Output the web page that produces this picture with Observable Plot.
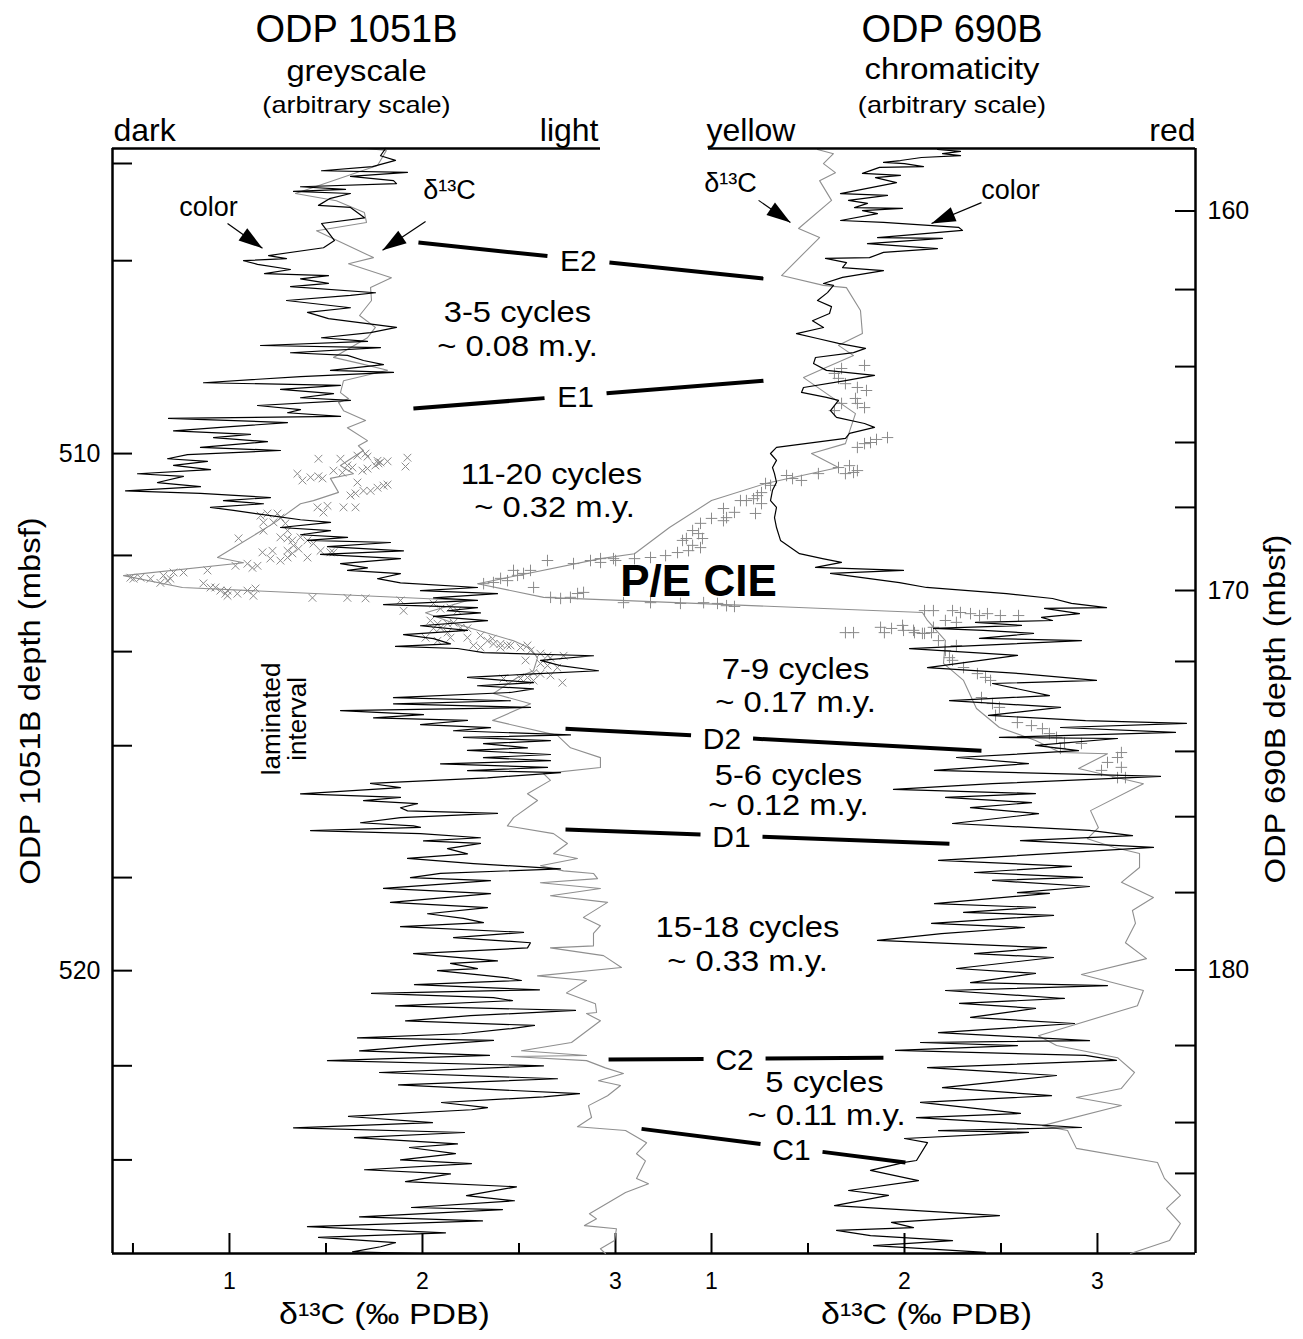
<!DOCTYPE html>
<html><head><meta charset="utf-8">
<script src="https://cdn.jsdelivr.net/npm/d3@7"></script>
<script src="https://cdn.jsdelivr.net/npm/@observablehq/plot@0.6"></script>
<style>
html,body{margin:0;padding:0;background:#fff;overflow:hidden}
#chart{position:relative;width:1303px;height:1339px;background:#fff}
#chart svg{position:absolute;left:0;top:0}
</style></head><body><div id="chart"></div>
<script>
// ---------------- DATA ----------------
// ODP 1051B greyscale (arbitrary units, dark=0) vs depth (mbsf): [depth, value]
const grey1051 = [[504.10,27.3],[504.24,26.8],[504.33,28.3],[504.45,26.0],[504.53,20.9],[504.56,29.5],[504.64,23.8],[504.72,28.1],[504.78,28.4],[504.84,18.8],[504.89,23.3],[504.93,18.1],[504.97,23.8],[505.07,21.7],[505.20,20.6],[505.24,23.8],[505.44,25.2],[505.55,20.9],[505.88,22.2],[506.02,21.1],[506.17,15.6],[506.23,17.4],[506.27,13.1],[506.34,14.5],[506.44,17.8],[506.52,15.2],[506.56,21.6],[506.62,18.8],[506.71,21.6],[506.77,17.8],[506.89,26.3],[506.94,23.8],[507.04,17.4],[507.18,23.8],[507.27,19.5],[507.39,21.6],[507.56,28.4],[507.66,25.8],[507.76,20.9],[507.83,25.5],[507.91,14.8],[507.95,26.8],[508.05,17.8],[508.10,23.5],[508.20,25.1],[508.28,27.1],[508.39,21.8],[508.43,28.1],[508.51,18.8],[508.63,9.1],[508.68,22.8],[508.76,16.8],[508.84,22.1],[508.92,18.8],[508.97,23.8],[509.07,14.5],[509.15,18.8],[509.21,17.5],[509.28,22.8],[509.32,5.6],[509.40,17.5],[509.48,11.8],[509.56,6.1],[509.63,13.8],[509.69,10.1],[509.77,15.5],[509.88,8.8],[509.94,16.8],[510.02,7.5],[510.10,5.5],[510.15,9.5],[510.23,6.1],[510.31,9.8],[510.39,2.5],[510.44,7.1],[510.56,4.5],[510.64,8.8],[510.72,1.3],[510.77,8.8],[510.85,15.8],[510.91,11.1],[510.97,15.1],[511.04,9.8],[511.10,12.1],[511.20,15.8],[511.28,18.8],[511.33,21.8],[511.43,16.8],[511.49,21.8],[511.57,18.8],[511.62,23.5],[511.68,19.5],[511.72,27.8],[511.80,21.5],[511.88,29.1],[511.95,20.8],[512.03,28.8],[512.13,22.8],[512.21,25.5],[512.26,23.5],[512.32,28.8],[512.42,26.5],[512.50,28.8],[512.59,36.5],[512.65,30.8],[512.71,38.5],[512.79,32.1],[512.84,36.5],[512.92,27.1],[512.98,36.5],[513.04,33.5],[513.08,36.8],[513.15,32.1],[513.23,37.5],[513.33,30.8],[513.42,35.5],[513.50,29.1],[513.58,32.1],[513.68,33.8],[513.73,28.3],[513.77,34.5],[513.85,37.1],[513.91,48.1],[514.00,42.8],[514.10,44.8],[514.20,48.6],[514.26,42.1],[514.33,35.5],[514.43,42.1],[514.49,36.5],[514.55,42.1],[514.62,39.8],[514.72,28.1],[514.78,39.8],[514.84,28.1],[514.91,41.8],[514.97,22.8],[515.05,31.1],[515.11,26.1],[515.16,35.5],[515.24,30.8],[515.30,37.8],[515.36,34.1],[515.44,45.8],[515.49,35.1],[515.55,43.8],[515.61,37.1],[515.69,41.5],[515.74,35.5],[515.82,43.8],[515.88,37.1],[515.94,43.8],[516.00,32.8],[516.07,43.5],[516.13,35.5],[516.17,44.8],[516.27,37.5],[516.38,25.8],[516.46,28.8],[516.58,18.8],[516.65,28.8],[516.71,25.1],[516.77,30.5],[516.85,28.8],[516.91,29.5],[516.96,38.5],[517.04,28.8],[517.14,24.8],[517.20,30.1],[517.23,30.8],[517.29,19.8],[517.35,30.8],[517.43,36.8],[517.49,31.1],[517.54,36.8],[517.64,33.5],[517.74,35.5],[517.83,29.5],[517.93,36.1],[518.03,44.8],[518.12,32.8],[518.20,29.8],[518.26,37.8],[518.41,27.1],[518.51,37.8],[518.68,27.8],[518.78,37.5],[518.90,31.5],[518.99,35.1],[519.07,37.1],[519.15,28.8],[519.26,41.1],[519.36,34.1],[519.46,41.8],[519.56,41.5],[519.67,30.1],[519.81,38.5],[519.86,33.8],[519.96,36.5],[520.00,32.5],[520.08,36.7],[520.14,39.5],[520.19,40.9],[520.27,30.2],[520.37,42.7],[520.44,25.9],[520.52,38.1],[520.58,40.0],[520.68,28.3],[520.77,46.3],[520.87,35.8],[520.97,29.3],[521.06,42.2],[521.12,39.9],[521.22,34.9],[521.30,24.5],[521.35,38.1],[521.45,30.8],[521.55,24.7],[521.64,37.7],[521.74,21.5],[521.84,43.1],[521.97,26.7],[522.09,44.5],[522.21,28.6],[522.38,46.7],[522.44,43.1],[522.55,32.9],[522.65,37.5],[522.69,35.9],[522.82,23.6],[522.94,32.0],[523.04,18.1],[523.13,35.2],[523.23,24.2],[523.35,34.5],[523.42,29.7],[523.54,34.3],[523.66,28.8],[523.73,35.9],[523.85,25.2],[523.93,33.8],[524.08,29.3],[524.18,40.4],[524.35,35.4],[524.45,40.2],[524.58,29.9],[524.62,39.0],[524.76,24.7],[524.84,37.0],[524.95,19.5],[525.07,33.3],[525.16,20.6],[525.26,28.3],[525.34,26.8],[525.44,24.0],[525.47,30.8]];

// ODP 1051B bulk δ13C (‰ PDB) line vs depth: [depth, δ13C]
const d13c1051 = [[504.10,1.710],[504.14,1.813],[504.43,1.767],[504.97,1.342],[505.11,1.554],[505.34,1.699],[505.53,1.710],[505.69,1.451],[506.21,1.746],[506.33,1.617],[506.60,1.839],[506.79,1.731],[507.04,1.736],[507.33,1.674],[507.56,1.756],[507.76,1.715],[508.14,1.539],[508.26,1.679],[508.39,1.819],[508.59,1.591],[508.82,1.575],[508.94,1.617],[509.01,1.565],[509.17,1.591],[509.36,1.705],[509.50,1.611],[509.75,1.715],[509.85,1.668],[509.94,1.694],[510.23,1.575],[510.39,1.642],[510.48,1.523],[510.75,1.565],[510.91,1.435],[510.97,1.368],[511.35,1.228],[512.01,0.938],[512.11,1.073],[512.36,0.451],[512.59,0.756],[512.84,2.233],[513.08,2.016],[513.27,2.155],[513.46,2.326],[513.62,2.472],[513.77,2.560],[513.95,2.596],[514.20,2.575],[514.33,2.492],[514.64,2.368],[514.84,2.560],[515.16,2.363],[515.45,2.699],[515.69,2.767],[515.88,2.922],[516.07,2.922],[516.19,2.627],[516.32,2.663],[516.58,2.544],[516.71,2.596],[517.04,2.472],[517.20,2.440],[517.35,2.679],[517.54,2.751],[517.74,2.679],[517.83,2.803],[517.97,2.611],[518.07,2.731],[518.12,2.886],[518.22,2.907],[518.30,2.611],[518.41,2.922],[518.55,2.663],[518.68,2.959],[518.97,2.834],[519.13,2.922],[519.28,2.886],[519.52,2.886],[519.56,2.663],[519.71,2.938],[519.94,3.031],[520.10,2.596],[520.19,2.850],[520.43,2.746],[520.64,2.896],[520.81,2.902],[520.83,2.850],[520.97,2.922],[521.39,2.772],[521.55,2.513],[521.64,2.850],[521.66,2.461],[521.74,2.850],[521.88,2.948],[521.99,3.041],[522.13,2.912],[522.22,3.026],[522.42,2.959],[522.61,2.860],[522.84,2.876],[523.02,2.803],[523.09,3.052],[523.33,3.161],[523.54,3.109],[523.68,3.155],[524.02,3.109],[524.12,3.171],[524.29,3.052],[524.70,2.865],[524.80,2.902],[524.93,2.839],[524.99,3.005],[525.22,2.995],[525.38,2.922],[525.47,2.948]];

// ODP 1051B discrete δ13C samples (× markers): [depth, δ13C]
const samples1051 = [[510.10,1.461],[510.10,1.575],[510.04,1.663],[510.00,1.705],[510.06,1.715],[510.14,1.767],[510.17,1.782],[510.15,1.819],[510.08,1.922],[510.25,1.912],[510.39,1.352],[510.52,1.378],[510.46,1.420],[510.44,1.461],[510.48,1.482],[510.33,1.539],[510.37,1.585],[510.23,1.611],[510.27,1.637],[510.33,1.689],[510.29,1.715],[510.23,1.756],[510.19,1.772],[510.56,1.663],[510.81,1.627],[510.77,1.653],[510.72,1.694],[510.72,1.731],[510.66,1.767],[510.62,1.798],[510.60,1.819],[511.04,1.591],[511.04,1.653],[511.01,1.508],[511.04,1.456],[511.14,1.487],[511.20,1.161],[511.16,1.197],[511.16,1.249],[511.24,1.264],[511.33,1.176],[511.33,1.228],[511.35,1.290],[511.49,1.301],[511.49,1.176],[511.64,1.047],[511.62,1.264],[511.64,1.301],[511.68,1.326],[511.62,1.368],[511.68,1.404],[511.74,1.435],[511.78,1.332],[511.88,1.301],[511.84,1.358],[511.88,1.472],[511.91,1.523],[511.91,1.171],[511.88,1.223],[512.03,1.212],[512.07,1.264],[512.01,1.301],[511.93,1.326],[512.01,1.404],[511.91,1.539],[512.13,1.093],[512.21,1.119],[512.17,1.145],[512.17,1.031],[512.26,0.886],[512.30,0.762],[512.30,0.710],[512.36,0.658],[512.42,0.591],[512.40,0.539],[512.42,0.503],[512.40,0.487],[512.46,0.679],[512.50,0.642],[512.42,0.694],[512.51,0.865],[512.59,0.902],[512.59,0.927],[512.65,0.953],[512.71,0.979],[512.65,0.990],[512.71,1.041],[512.65,1.093],[512.61,1.135],[512.75,1.124],[512.75,0.990],[512.79,1.430],[512.79,1.611],[512.80,1.705],[512.84,1.886],[513.04,1.902],[512.90,2.057],[513.00,2.093],[512.98,2.145],[513.04,2.181],[513.23,2.041],[513.29,2.078],[513.29,2.130],[513.27,2.161],[513.37,2.197],[513.38,2.233],[513.46,2.130],[513.37,2.093],[513.38,2.057],[513.56,2.016],[513.62,2.078],[513.56,2.145],[513.56,2.233],[513.52,2.301],[513.62,2.337],[513.58,2.363],[513.68,2.404],[513.71,2.440],[513.75,2.508],[513.71,2.544],[513.81,2.560],[513.87,2.611],[513.91,2.648],[513.91,2.731],[513.71,2.264],[513.75,2.301],[513.68,2.368],[513.75,2.404],[513.71,2.456],[513.95,2.663],[514.00,2.534],[514.06,2.611],[514.10,2.648],[514.14,2.699],[514.24,2.575],[514.26,2.611],[514.29,2.663],[514.33,2.544],[514.35,2.508],[514.39,2.575],[514.43,2.725],[514.35,2.420]];

// ODP 690B chromaticity (arbitrary units, yellow=0) vs depth: [depth, value]
const chroma690 = [[158.38,22.9],[158.43,25.2],[158.49,23.4],[158.54,25.2],[158.59,21.3],[158.67,19.2],[158.72,17.5],[158.75,19.6],[158.83,21.5],[158.85,17.1],[159.01,15.4],[159.06,19.2],[159.12,16.7],[159.25,18.8],[159.54,13.2],[159.59,17.9],[159.72,14.0],[159.80,15.9],[159.91,14.6],[159.93,19.4],[159.99,15.4],[160.07,16.9],[160.25,13.2],[160.30,17.5],[160.43,25.0],[160.51,25.4],[160.70,16.9],[160.72,23.4],[160.86,15.9],[160.99,22.9],[161.09,17.5],[161.23,16.1],[161.25,11.7],[161.36,13.8],[161.49,13.4],[161.57,17.5],[161.75,13.4],[161.91,11.5],[161.96,12.5],[162.15,11.9],[162.36,10.9],[162.52,12.3],[162.70,12.1],[162.89,10.4],[163.07,11.5],[163.23,8.8],[163.36,10.9],[163.49,13.0],[163.62,15.7],[163.73,14.5],[163.86,10.7],[164.02,10.5],[164.20,11.8],[164.33,16.6],[164.47,13.7],[164.65,9.5],[164.78,9.3],[164.91,11.8],[164.99,13.0],[165.26,12.2],[165.44,12.8],[165.60,15.6],[165.70,16.6],[165.86,14.1],[165.99,13.7],[166.23,6.8],[166.39,6.2],[166.57,6.8],[166.76,6.4],[166.92,6.6],[167.15,6.8],[167.36,6.4],[167.63,6.2],[167.81,6.8],[168.08,6.6],[168.34,6.8],[168.68,7.2],[169.03,9.1],[169.16,11.4],[169.26,13.3],[169.39,10.7],[169.47,19.5],[169.55,12.2],[169.79,19.1],[169.92,21.8],[170.08,29.8],[170.21,34.4],[170.34,36.3],[170.45,39.8],[170.47,33.6],[170.61,37.1],[170.71,33.3],[170.79,34.4],[170.84,26.7],[170.92,31.3],[171.00,22.5],[171.05,27.5],[171.13,32.5],[171.26,27.1],[171.32,37.3],[171.53,20.1],[171.71,30.9],[172.03,21.9],[172.19,31.2],[172.37,38.8],[172.45,28.4],[172.77,34.1],[172.90,24.1],[173.08,35.2],[173.29,28.0],[173.43,37.7],[173.50,47.8],[173.61,35.2],[173.74,46.7],[173.87,29.1],[173.90,40.9],[174.08,32.7],[174.22,37.0],[174.40,24.8],[174.56,32.0],[174.74,22.6],[174.90,45.2],[175.09,28.4],[175.24,18.5],[175.35,32.7],[175.45,23.7],[175.59,32.3],[175.72,26.2],[175.88,33.0],[176.14,24.4],[176.32,38.1],[176.46,42.4],[176.59,31.2],[176.77,44.5],[177.11,23.0],[177.27,36.3],[177.43,26.6],[177.56,37.4],[177.64,28.4],[177.80,38.1],[177.96,30.9],[177.98,34.1],[178.25,22.6],[178.35,32.7],[178.48,25.5],[178.56,34.5],[178.77,22.3],[178.88,31.6],[179.04,23.3],[179.22,16.9],[179.41,33.8],[179.57,26.6],[179.67,34.5],[179.96,24.8],[180.09,32.7],[180.33,26.2],[180.41,39.9],[180.54,23.7],[180.75,35.6],[180.88,25.1],[181.01,32.7],[181.25,26.2],[181.41,36.6],[181.65,23.0],[181.86,38.1],[181.91,21.2],[181.99,30.9],[182.12,18.7],[182.25,37.7],[182.38,40.8],[182.57,21.9],[182.78,34.8],[183.10,23.4],[183.31,34.3],[183.49,21.2],[183.78,31.2],[183.89,20.8],[184.15,37.3],[184.23,23.0],[184.28,32.0],[184.44,19.6],[184.55,21.9],[185.02,20.8],[185.07,19.6],[185.28,16.2],[185.55,21.0],[185.81,14.0],[185.94,18.0],[186.21,12.6],[186.47,29.1],[186.65,18.3],[186.79,20.5],[186.86,12.8],[187.00,16.2],[187.13,24.4],[187.26,16.5],[187.44,27.7],[187.47,22.3]];

// ODP 690B bulk δ13C (‰ PDB) line vs depth: [depth, δ13C]
const d13c690 = [[158.38,1.549],[158.49,1.632],[158.75,1.580],[158.99,1.642],[159.20,1.560],[159.72,1.622],[160.46,1.451],[160.70,1.560],[161.70,1.363],[161.96,1.580],[162.02,1.699],[162.62,1.772],[163.23,1.782],[163.54,1.658],[163.81,1.736],[164.12,1.596],[164.39,1.477],[165.34,1.746],[166.13,1.694],[166.39,1.518],[166.76,1.658],[167.18,1.280],[167.63,1.000],[168.34,0.782],[169.03,0.601],[169.16,0.425],[169.82,-0.212],[170.18,0.130],[170.26,0.528],[170.58,2.093],[170.79,2.119],[171.32,2.212],[171.92,2.202],[172.37,2.306],[173.11,2.373],[173.61,2.492],[173.95,2.679],[174.27,2.808],[174.30,3.052],[174.69,2.902],[175.09,3.238],[175.80,2.964],[176.25,3.005],[176.54,2.948],[176.77,3.088],[176.93,3.218],[177.30,3.218],[177.69,3.124],[178.09,3.290],[178.43,3.181],[178.77,3.197],[179.28,3.145],[179.70,3.254],[180.12,2.917],[180.54,3.238],[180.94,3.207],[181.73,2.694],[181.99,2.788],[182.31,3.104],[182.70,3.192],[183.12,3.124],[183.36,2.891],[183.57,3.124],[184.10,2.715],[184.23,2.845],[184.70,2.891],[185.07,3.311],[185.49,3.347],[185.94,3.430],[186.28,3.358],[186.68,3.430],[187.13,3.373],[187.47,3.171]];

// ODP 690B discrete δ13C samples (+ markers): [depth, δ13C]
const samples690 = [[164.07,1.793],[164.15,1.674],[164.28,1.637],[164.41,1.658],[164.55,1.694],[164.65,1.756],[164.73,1.803],[164.94,1.746],[165.07,1.756],[165.18,1.793],[165.07,1.674],[165.26,1.637],[165.97,1.912],[166.02,1.855],[166.13,1.793],[166.23,1.756],[166.10,1.824],[166.76,1.658],[166.71,1.715],[166.84,1.756],[166.92,1.694],[166.89,1.736],[166.97,1.389],[167.05,1.420],[167.10,1.466],[166.92,1.554],[167.18,1.280],[167.23,1.306],[167.42,1.259],[167.50,1.238],[167.58,1.218],[167.63,1.181],[167.63,1.150],[167.71,1.259],[167.97,1.228],[167.94,1.119],[167.84,1.062],[168.08,1.078],[168.10,1.000],[168.16,1.062],[168.23,0.943],[168.42,0.902],[168.63,0.870],[168.50,0.933],[168.63,0.953],[168.81,0.902],[168.87,0.943],[168.68,0.850],[168.95,0.881],[169.00,0.824],[169.08,0.762],[169.13,0.684],[169.16,0.601],[169.21,0.503],[169.26,0.425],[170.32,0.544],[170.32,0.684],[170.34,0.839],[170.32,0.959],[170.34,1.031],[170.40,1.078],[170.42,1.119],[170.53,2.104],[170.53,2.150],[170.53,2.249],[170.58,2.290],[170.61,2.342],[170.66,2.389],[170.61,2.430],[170.66,2.497],[170.66,2.591],[171.11,1.694],[171.11,1.736],[170.97,1.876],[171.00,1.933],[171.05,1.995],[171.11,2.052],[171.13,2.093],[170.97,2.150],[170.79,2.212],[170.84,2.269],[169.82,-0.181],[169.79,-0.130],[169.68,-0.093],[169.74,-0.057],[169.60,-0.005],[169.55,0.026],[169.47,0.062],[169.47,-0.026],[169.92,0.078],[170.18,0.166],[170.21,0.218],[170.18,0.269],[170.08,0.306],[170.05,0.337],[169.21,0.150],[169.29,0.285],[169.21,0.373],[169.16,0.425],[169.16,0.492],[171.11,1.896],[170.92,1.990],[171.05,2.047],[171.13,2.104],[171.11,2.140],[171.32,2.176],[171.58,2.212],[171.77,2.233],[171.45,2.269],[171.84,2.249],[172.03,2.306],[172.19,2.378],[172.29,2.420],[172.37,2.446],[172.82,2.399],[172.98,2.456],[173.08,2.492],[173.29,2.472],[173.48,2.585],[173.56,2.658],[173.64,2.715],[173.77,2.751],[173.87,2.788],[174.01,2.829],[174.03,2.917],[174.16,2.808],[174.27,3.124],[174.40,3.104],[174.53,3.052],[174.66,3.124],[174.74,3.021],[174.93,3.104],[174.93,3.145]];

// Correlation tie points between the two sites
const tieNames = ["E2","E1","D2","D1","C2","C1"];
const tieDepth1051 = [505.92, 509.13, 515.32, 517.27, 521.72, 523.06];
const tieDepth690  = [161.78, 164.47, 174.22, 176.67, 182.31, 185.07];

// Cycle counts between tie points
const cycleCounts = ["3-5 cycles","11-20 cycles","7-9 cycles","5-6 cycles","15-18 cycles","5 cycles"];
const cycleDurations = ["~ 0.08 m.y.","~ 0.32 m.y.","~ 0.17 m.y.","~ 0.12 m.y.","~ 0.33 m.y.","~ 0.11 m.y."];

// Axis ticks
const ticks1051Labeled = [510, 520];
const ticks1051 = [504.39, 506.27, 510, 511.97, 513.83, 515.65, 518.20, 520, 521.84, 523.66];
const ticks690Labeled = [160, 170, 180];
const ticks690 = [160, 162.07, 164.10, 166.10, 167.81, 170, 171.87, 174.24, 175.96, 177.96, 180, 181.99, 184.02, 185.36];
const d13cTicksMajor = [1, 2, 3];
const d13cTicksMinor1051 = [0.5, 1.5, 2.5];
const d13cTicksMinor690 = [1.5, 2.5];

// ---------------- LAYOUT / SCALES ----------------
const W = 1303, H = 1339, MT = 148, MB = 86;
const FRAME_X = [112, 1195], FRAME_Y = [148, 1253];
const FONT = "'Liberation Sans', Arial, Helvetica, sans-serif";
const DOM1051 = [504.10, 525.47];
const DOM690 = [158.353, 187.470];
const DOMX1051 = [0.394, 6.005];
const DOMX690 = [-2.104, 3.508];
const DOMGREY = [0, 48.8];
const DOMCHROMA = [0, 48.7];
const GREY_X = [112, 600], CHROMA_X = [708, 1195];
const WIDE = 1.13;  // horizontal stretch of the original lettering

const sx1051 = Plot.scale({x: {domain: DOMX1051, range: FRAME_X}});
const sy1051 = Plot.scale({y: {domain: DOM1051, range: FRAME_Y}});
const sx690 = Plot.scale({x: {domain: DOMX690, range: FRAME_X}});
const sy690 = Plot.scale({y: {domain: DOM690, range: FRAME_Y}});

const toRows = (arr) => arr.map(([d, v]) => ({d, v}));
const base = {width: W, height: H, marginTop: MT, marginBottom: MB,
  style: {background: "transparent", fontFamily: FONT, color: "black", overflow: "visible"}};

// filled arrow head (tip at origin, pointing +x)
const headSymbol = {draw(ctx) { ctx.moveTo(0, 0); ctx.lineTo(-24, -7.5); ctx.lineTo(-24, 7.5); ctx.closePath(); }};
function arrows(list, sx, sy) {
  const ang = (a) => Math.atan2(sy.apply(a.y2) - sy.apply(a.y1), sx.apply(a.x2) - sx.apply(a.x1)) * 180 / Math.PI;
  return [
    Plot.link(list, {x1: "x1", y1: "y1", x2: "x2", y2: "y2", stroke: "black", strokeWidth: 1.2}),
    Plot.dot(list, {x: "x2", y: "y2", symbol: headSymbol, fill: "black", stroke: "none", rotate: ang})
  ];
}

// ---------------- ANNOTATION PLACEMENT (plot units of each site) ----------------
const tieEndX1051 = [1.979, 1.953, 2.741, 2.741, 2.964, 3.135];   // δ13C-axis x of the 1051B end
const tieEndX690 = [1.269, 1.269, 2.399, 2.233, 1.891, 2.005];    // δ13C-axis x of the 690B end
const tieLabelX = [2.808, 2.793, 3.552, 3.601, 3.617, 3.912];     // label centre (1051B δ13C units)
const TIE_GAP = 31; // half gap around the label, px
const cyclePos = [[2.492,507.27,507.93],[2.668,510.41,511.04],[3.933,514.18,514.82],[3.896,516.23,516.81],[3.684,519.17,519.83],[4.083,522.17,522.80]];

const tieSegs = [], tieLabels = [];
tieNames.forEach((name, i) => {
  const ax = sx1051.apply(tieEndX1051[i]), ay = sy1051.apply(tieDepth1051[i]);
  const bx = sx690.apply(tieEndX690[i]), by = sy690.apply(tieDepth690[i]);
  const lx = sx1051.apply(tieLabelX[i]);
  const at = (px) => ay + (px - ax) / (bx - ax) * (by - ay);
  const P = (px, py) => [sx1051.invert(px), sy1051.invert(py)];
  const [a1, a2] = P(ax, ay), [g1x, g1y] = P(lx - TIE_GAP, at(lx - TIE_GAP));
  const [g2x, g2y] = P(lx + TIE_GAP, at(lx + TIE_GAP)), [b1, b2] = P(bx, by);
  tieSegs.push({x1: a1, y1: a2, x2: g1x, y2: g1y}, {x1: g2x, y1: g2y, x2: b1, y2: b2});
  const [tx, ty] = P(lx, at(lx) + 2);
  tieLabels.push({t: name, x: tx, y: ty});
});
const cycleText = [];
cycleCounts.forEach((t, i) => {
  cycleText.push({t, x: cyclePos[i][0], y: cyclePos[i][1]});
  cycleText.push({t: cycleDurations[i], x: cyclePos[i][0] + (i === 1 ? 0.016 : i === 5 ? 0.01 : 0), y: cyclePos[i][2]});
});

// ---------------- LAYER: 1051B δ13C + frame + annotations ----------------
const layerL = Plot.plot({...base, marginLeft: 112, marginRight: W - 1195,
  x: {domain: DOMX1051, range: FRAME_X},
  y: {domain: DOM1051, range: FRAME_Y},
  marks: [
    Plot.ruleX([DOMX1051[0]], {stroke: "black", strokeWidth: 2.5}),
    Plot.ruleY([DOM1051[1]], {stroke: "black", strokeWidth: 2.5}),
    Plot.ruleY(ticks1051, {insetRight: 1083 - 20, stroke: "black", strokeWidth: 2}),
    Plot.ruleX(d13cTicksMajor, {insetTop: 1105 - 20, stroke: "black", strokeWidth: 2}),
    Plot.ruleX(d13cTicksMinor1051, {insetTop: 1105 - 10, stroke: "black", strokeWidth: 2}),
    Plot.line(toRows(d13c1051), {x: "v", y: "d", stroke: "#8f8f8f", strokeWidth: 1.1}),
    Plot.dot(toRows(samples1051), {x: "v", y: "d", symbol: "times", r: 3.6, stroke: "#8a8a8a", strokeWidth: 1}),
    Plot.axisY({ticks: ticks1051Labeled, anchor: "left", tickSize: 0, tickPadding: 12, fontSize: 25, label: null}),
    Plot.axisX({ticks: d13cTicksMajor, tickFormat: (d) => String(d), anchor: "bottom", tickSize: 0, tickPadding: 19, fontSize: 23, label: null}),
    Plot.text(["ODP 1051B depth (mbsf)"], {ariaDescription: "wide", frameAnchor: "left", dx: -82, rotate: -90, textAnchor: "middle", lineAnchor: "middle", fontSize: 29}),
    Plot.text(["δ¹³C (‰ PDB)"], {ariaDescription: "wide", x: () => 1.803, frameAnchor: "bottom", dy: 61, lineAnchor: "middle", fontSize: 30}),
    // correlation lines and labels
    Plot.link(tieSegs, {x1: "x1", y1: "y1", x2: "x2", y2: "y2", stroke: "black", strokeWidth: 4}),
    Plot.text(tieLabels, {x: "x", y: "y", text: "t", fontSize: 30, lineAnchor: "middle"}),
    Plot.text(cycleText, {ariaDescription: "wide", x: "x", y: "y", text: "t", fontSize: 29, lineAnchor: "middle"}),
    Plot.text([{t: "P/E CIE", x: 3.430, y: 512.48}], {x: "x", y: "y", text: "t", fontSize: 44, fontWeight: "bold", lineAnchor: "middle"}),
    Plot.text([{t: "laminated\ninterval", x: 1.285, y: 515.13}], {x: "x", y: "y", text: "t", fontSize: 26, rotate: -90, lineAnchor: "middle", lineHeight: 1.0}),
    Plot.text([{t: "color", x: 0.891, y: 505.24}, {t: "δ¹³C", x: 2.140, y: 504.91}], {x: "x", y: "y", text: "t", fontSize: 27, lineAnchor: "middle"}),
    ...arrows([{x1: 0.990, y1: 505.55, x2: 1.171, y2: 506.03}, {x1: 2.016, y1: 505.51, x2: 1.793, y2: 506.07}], sx1051, sy1051)
  ]
});

// ---------------- LAYER: 1051B greyscale ----------------
const layerG = Plot.plot({...base, marginLeft: GREY_X[0], marginRight: W - GREY_X[1],
  x: {domain: DOMGREY, range: GREY_X, axis: null},
  y: {domain: DOM1051, range: FRAME_Y, axis: null},
  marks: [
    Plot.ruleY([DOM1051[0]], {stroke: "black", strokeWidth: 2.5}),
    Plot.line(toRows(grey1051), {x: "v", y: "d", stroke: "black", strokeWidth: 1.2}),
    Plot.text(["ODP 1051B"], {frameAnchor: "top", dy: -107, lineAnchor: "bottom", fontSize: 38}),
    Plot.text(["greyscale"], {ariaDescription: "wide", frameAnchor: "top", dy: -68, lineAnchor: "bottom", fontSize: 29}),
    Plot.text(["(arbitrary scale)"], {ariaDescription: "wide", frameAnchor: "top", dy: -36, lineAnchor: "bottom", fontSize: 24}),
    Plot.text(["dark"], {frameAnchor: "top-left", dy: -8, dx: 1, textAnchor: "start", lineAnchor: "bottom", fontSize: 32}),
    Plot.text(["light"], {frameAnchor: "top-right", dy: -8, dx: -2, textAnchor: "end", lineAnchor: "bottom", fontSize: 32})
  ]
});

// ---------------- LAYER: 690B δ13C ----------------
const layerR = Plot.plot({...base, marginLeft: 112, marginRight: W - 1195,
  x: {domain: DOMX690, range: FRAME_X},
  y: {domain: DOM690, range: FRAME_Y},
  marks: [
    Plot.ruleX([DOMX690[1]], {stroke: "black", strokeWidth: 2.5}),
    Plot.ruleY(ticks690, {insetLeft: 1083 - 20, stroke: "black", strokeWidth: 2}),
    Plot.ruleX(d13cTicksMajor, {insetTop: 1105 - 20, stroke: "black", strokeWidth: 2}),
    Plot.ruleX(d13cTicksMinor690, {insetTop: 1105 - 10, stroke: "black", strokeWidth: 2}),
    Plot.line(toRows(d13c690), {x: "v", y: "d", stroke: "#8f8f8f", strokeWidth: 1.1}),
    Plot.dot(toRows(samples690), {x: "v", y: "d", symbol: "plus", r: 3.8, stroke: "#8a8a8a", strokeWidth: 1}),
    Plot.axisY({ticks: ticks690Labeled, anchor: "right", tickSize: 0, tickPadding: 12, fontSize: 25, label: null}),
    Plot.axisX({ticks: d13cTicksMajor, tickFormat: (d) => String(d), anchor: "bottom", tickSize: 0, tickPadding: 19, fontSize: 23, label: null}),
    Plot.text(["ODP 690B depth (mbsf)"], {ariaDescription: "wide", frameAnchor: "right", dx: 80, dy: 8, rotate: -90, textAnchor: "middle", lineAnchor: "middle", fontSize: 29}),
    Plot.text(["δ¹³C (‰ PDB)"], {ariaDescription: "wide", x: () => 2.114, frameAnchor: "bottom", dy: 61, lineAnchor: "middle", fontSize: 30}),
    Plot.text([{t: "δ¹³C", x: 1.098, y: 159.28}, {t: "color", x: 2.549, y: 159.46}], {x: "x", y: "y", text: "t", fontSize: 27, lineAnchor: "middle"}),
    ...arrows([{x1: 1.244, y1: 159.72, x2: 1.409, y2: 160.30}, {x1: 2.399, y1: 159.78, x2: 2.140, y2: 160.33}], sx690, sy690)
  ]
});

// ---------------- LAYER: 690B chromaticity ----------------
const layerC = Plot.plot({...base, marginLeft: CHROMA_X[0], marginRight: W - CHROMA_X[1],
  x: {domain: DOMCHROMA, range: CHROMA_X, axis: null},
  y: {domain: DOM690, range: FRAME_Y, axis: null},
  marks: [
    Plot.ruleY([DOM690[0]], {stroke: "black", strokeWidth: 2.5}),
    Plot.line(toRows(chroma690), {x: "v", y: "d", stroke: "black", strokeWidth: 1.2}),
    Plot.text(["ODP 690B"], {frameAnchor: "top", dy: -107, lineAnchor: "bottom", fontSize: 38}),
    Plot.text(["chromaticity"], {ariaDescription: "wide", frameAnchor: "top", dy: -70, lineAnchor: "bottom", fontSize: 29}),
    Plot.text(["(arbitrary scale)"], {ariaDescription: "wide", frameAnchor: "top", dy: -36, lineAnchor: "bottom", fontSize: 24}),
    Plot.text(["yellow"], {frameAnchor: "top-left", dy: -8, dx: -2, textAnchor: "start", lineAnchor: "bottom", fontSize: 32}),
    Plot.text(["red"], {frameAnchor: "top-right", dy: -8, textAnchor: "end", lineAnchor: "bottom", fontSize: 32})
  ]
});

// the original lettering is slightly extended: stretch marked texts along their baseline
for (const svg of [layerL, layerG, layerR, layerC]) {
  svg.querySelectorAll('g[aria-description="wide"] text').forEach((t) => {
    t.setAttribute("transform", (t.getAttribute("transform") || "") + ` scale(${WIDE},1)`);
  });
}
document.getElementById("chart").append(layerL, layerR, layerG, layerC);
</script></body></html>
